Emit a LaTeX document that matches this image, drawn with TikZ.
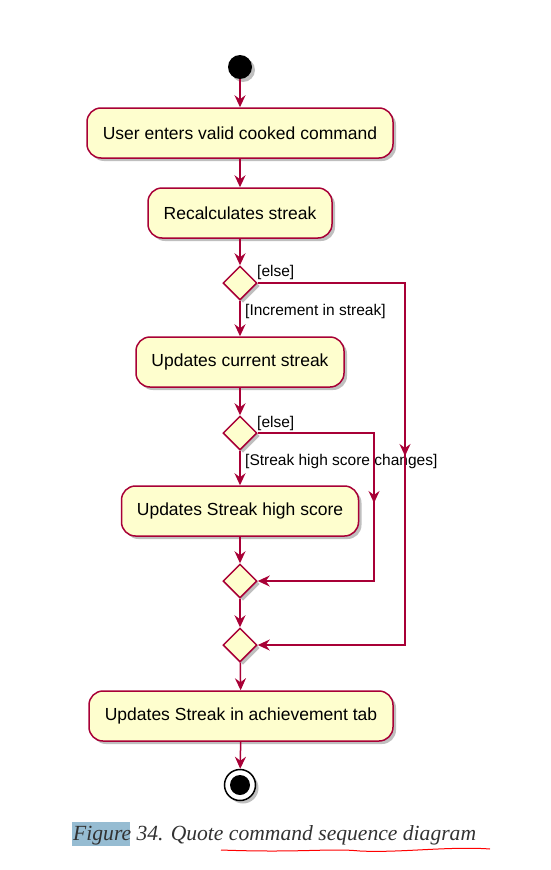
\documentclass[tikz,border=0pt]{standalone}
\usepackage{fontspec}
\setmainfont{Liberation Sans}
\newfontfamily\capfont{Liberation Serif}
\usetikzlibrary{arrows.meta,shapes.geometric,shadows}
\definecolor{pborder}{HTML}{A80036}
\definecolor{pfill}{HTML}{FEFECE}
\definecolor{hlblue}{RGB}{150,188,210}
\definecolor{captxt}{RGB}{50,50,50}
\begin{document}
\begin{tikzpicture}[x=1pt,y=-1pt,
  shad/.style={drop shadow={shadow xshift=3pt,shadow yshift=-3pt,opacity=0.25,fill=black}},
  act/.style={draw=pborder,fill=pfill,line width=1.5pt,rounded corners=14pt,
    minimum height=50pt,inner sep=0pt,font=\fontsize{17.5}{20}\selectfont,shad},
  dec/.style={diamond,draw=pborder,fill=pfill,line width=1.5pt,minimum width=34pt,
    minimum height=34pt,inner sep=0pt,shad},
  flow/.style={draw=pborder,line width=1.5pt,-{Stealth[length=12pt,width=11pt,inset=4pt]}},
  plain/.style={draw=pborder,line width=1.5pt},
  lab/.style={font=\fontsize{15.5}{18}\selectfont,inner sep=0pt,anchor=west}]
\useasboundingbox (0,0) rectangle (551,870);
% start
\node[circle,fill=black,minimum size=24pt,inner sep=0pt,shad] (start) at (240,67) {};
\node[act,minimum width=306pt] (a1) at (240,133) {User enters valid cooked command};
\node[act,minimum width=184pt] (a2) at (240,213) {Recalculates streak};
\node[dec] (d1) at (240,283) {};
\node[act,minimum width=208pt] (a3) at (240,362) {Updates current streak};
\node[dec] (d2) at (240,433) {};
\node[act,minimum width=237pt] (a4) at (240,511) {Updates Streak high score};
\node[dec] (m1) at (240,581) {};
\node[dec] (m2) at (240,645) {};
\node[act,minimum width=304pt] (a5) at (241,716) {Updates Streak in achievement tab};
\node[circle,draw=black,fill=white,line width=1.5pt,minimum size=31pt,inner sep=0pt,shad] (endo) at (240,785) {};
\node[circle,fill=black,minimum size=20pt,inner sep=0pt] (endi) at (240,785) {};
% labels
\node[lab] (l1) at (257,272) {[else]};
\node[lab] (l2) at (245,311) {[Increment in streak]};
\node[lab] (l3) at (257,423) {[else]};
\node[lab] (l4) at (245,461) {[Streak high score changes]};
% coordinates
\coordinate (c1) at (405,283);
\coordinate (c1m) at (405,456);
\coordinate (c2) at (405,645);
\coordinate (c3) at (374,433);
\coordinate (c3m) at (374,503);
\coordinate (c4) at (374,581);
% flows
\draw[flow] (start) -- (a1);
\draw[flow] (a1) -- (a2);
\draw[flow] (a2) -- (d1);
\draw[flow] (d1) -- (a3);
\draw[flow] (a3) -- (d2);
\draw[flow] (d2) -- (a4);
\draw[flow] (a4) -- (m1);
\draw[flow] (m1) -- (m2);
\draw[flow] (m2) -- (a5);
\draw[flow] (a5) -- (endo);
\draw[plain] (d1.east) -- (c1) -- (c1m);
\draw[flow] (c1) -- (c1m);
\draw[flow] (c1m) -- (c2) -- (m2.east);
\draw[plain] (d2.east) -- (c3) -- (c3m);
\draw[flow] (c3) -- (c3m);
\draw[flow] (c3m) -- (c4) -- (m1.east);
% caption
\node[fill=hlblue,minimum width=58pt,minimum height=24pt,inner sep=0pt] (hl) at (101,834) {};
\node[anchor=base west,inner sep=0pt,font=\capfont\itshape\fontsize{21.6}{25}\selectfont,text=captxt] (cap) at (73,840) {Figure 34. Quote command sequence diagram};
\coordinate (w1) at (221,850);
\coordinate (w2) at (490,849);
\draw[red,line width=1pt] (w1) .. controls (300,853) and (330,848) .. (360,851) .. controls (400,853) and (450,846) .. (w2);
\end{tikzpicture}
\end{document}
